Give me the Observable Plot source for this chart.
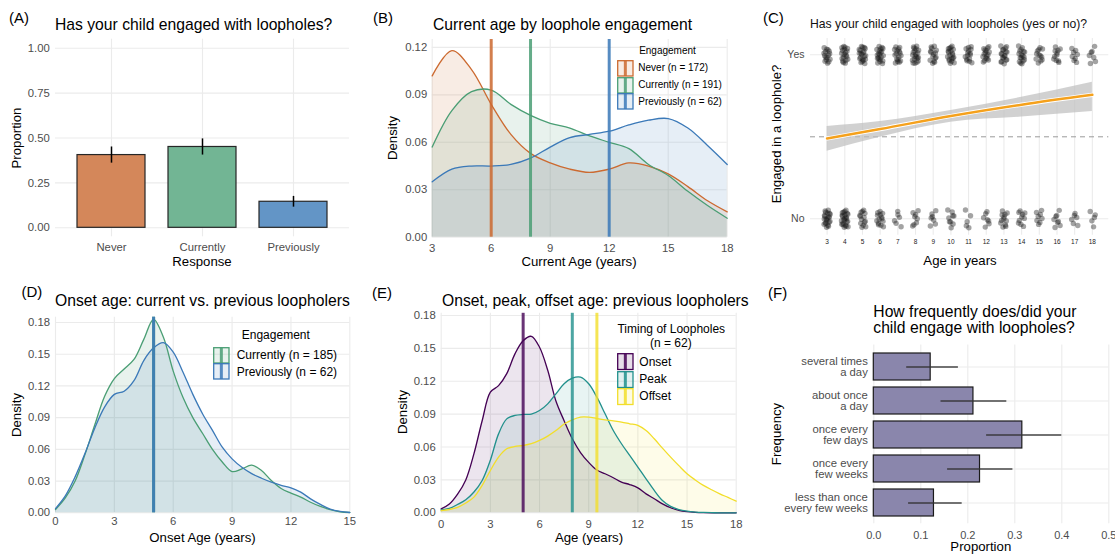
<!DOCTYPE html>
<html><head><meta charset="utf-8">
<script src="https://cdn.jsdelivr.net/npm/d3@7"></script>
<script src="https://cdn.jsdelivr.net/npm/@observablehq/plot@0.6"></script>
<style>
body{margin:0;background:#fff;font-family:"Liberation Sans",Arial,Helvetica,sans-serif;}
#fig{position:relative;width:1115px;height:554px;overflow:hidden;background:#fff;}
.t{position:absolute;white-space:nowrap;line-height:1;color:#000;}
</style>
</head><body><div id="fig"></div>
<script>
// ---------- Panel A data ----------
const responseCats = ["Never", "Currently", "Previously"];
const responseProp = [0.405, 0.45, 0.145];
const responseLo = [0.36, 0.405, 0.115];
const responseHi = [0.45, 0.495, 0.175];
const responseBarFill = ["#D4875A", "#72B594", "#6395C6"];
const engageLine = ["#CC6A30", "#4A9E74", "#3B79B8"];

// ---------- Panel B data ----------
const engageLabelsB = ["Never (n = 172)", "Currently (n = 191)", "Previously (n = 62)"];
const ageGridB = [3,4,5,6,7,8,9,10,11,12,13,14,15,16,17,18];
const densNeverB = [.102,.118,.106,.084,.065,.053,.047,.043,.041,.043,.047,.045,.040,.032,.023,.016];
const densCurrentlyB = [.057,.080,.092,.093,.084,.077,.072,.069,.064,.060,.056,.046,.039,.029,.020,.012];
const densPreviouslyB = [.035,.043,.045,.045,.046,.050,.057,.063,.065,.067,.071,.074,.075,.069,.058,.046];
const medianAgeB = [6, 8, 12];

// ---------- Panel C data ----------
const agesC = [3,4,5,6,7,8,9,10,11,12,13,14,15,16,17,18];
const yesCounts = [16,19,21,21,17,20,15,20,15,16,18,17,12,11,8,7];
const noCounts = [22,24,14,14,6,8,7,9,5,7,12,10,8,8,6,5];
const ynLabels = ["No", "Yes"];
const fitAges = [3, 6, 10, 14, 18];
const fitProb = [0.49, 0.547, 0.627, 0.696, 0.756];
const fitLo = [0.412, 0.498, 0.589, 0.62, 0.654];
const fitHi = [0.563, 0.593, 0.66, 0.741, 0.833];

// ---------- Panel D data ----------
const engageCatsD = ["Currently", "Previously"];
const engageLabelsD = ["Currently (n = 185)", "Previously (n = 62)"];
const ageGridD = [0,0.5,1,1.5,2,2.5,3,3.5,4,4.5,5,5.5,6,6.5,7,7.5,8,8.5,9,9.5,10,10.5,11,11.5,12,12.5,13,13.5,14,14.5,15];
const densCurrentlyD = [.003,.014,.030,.055,.083,.110,.127,.136,.145,.164,.183,.166,.134,.109,.090,.075,.060,.048,.039,.0415,.045,.040,.0305,.023,.0186,.0148,.010,.006,.003,.001,.0003];
const densPreviouslyD = [.004,.016,.034,.056,.080,.100,.112,.115,.125,.144,.156,.161,.152,.133,.112,.0935,.078,.062,.051,.043,.037,.0327,.029,.026,.0236,.0195,.0132,.0079,.0035,.0013,.0003];
const medianOnsetD = [5, 5];

// ---------- Panel E data ----------
const timingCats = ["Onset", "Peak", "Offset"];
const timingLine = ["#440154", "#21908C", "#F2DE2A"];
const ageGridE = [0,0.5,1,1.5,2,2.5,3,3.5,4,4.5,5,5.5,6,6.5,7,7.5,8,8.5,9,9.5,10,10.5,11,11.5,12,12.5,13,13.5,14,14.5,15,15.5,16,16.5,17,17.5,18];
const densOnsetE = [.0036,.008,.017,.030,.054,.084,.110,.116,.127,.145,.157,.161,.151,.130,.102,.084,.0675,.055,.046,.039,.0356,.032,.028,.0258,.0228,.0173,.0128,.0082,.0046,.0022,.001,.0004,.0001,0,0,0,0];
const densPeakE = [.0027,.004,.0076,.012,.019,.0295,.048,.072,.0857,.0888,.0897,.090,.0933,.0994,.1085,.1177,.1228,.1237,.1177,.1055,.0903,.0751,.063,.0523,.0417,.031,.0204,.0112,.0058,.003,.0015,.0007,.0003,.0001,0,0,0];
const densOffsetE = [.002,.003,.005,.009,.0143,.025,.0386,.0508,.0584,.0605,.0614,.063,.066,.070,.075,.081,.0848,.0873,.0873,.086,.0848,.0838,.0827,.0812,.0797,.075,.0675,.059,.0508,.043,.0356,.030,.025,.021,.0173,.014,.0106];
const medianTimingE = [5, 8, 9.5];

// ---------- Panel F data ----------
const freqCats = ["several times\na day", "about once\na day", "once every\nfew days", "once every\nfew weeks", "less than once\nevery few weeks"];
const freqProp = [0.121, 0.212, 0.316, 0.226, 0.128];
const freqLo = [0.07, 0.143, 0.24, 0.157, 0.074];
const freqHi = [0.18, 0.283, 0.40, 0.296, 0.188];

// ---------- helpers ----------
const fig = document.getElementById("fig");
const FONT = '"Liberation Sans", Arial, Helvetica, sans-serif';
const GRID = "#EBEBEB";
const CURVE = "catmull-rom";
const baseStyle = {fontFamily: FONT, fontSize: "11.3px", color: "#4D4D4D", background: "none", overflow: "visible"};
const gridOpts = {stroke: GRID, strokeOpacity: 1, strokeWidth: 1.1};

function mount(node, left, top) {
  const d = document.createElement("div");
  d.style.position = "absolute"; d.style.left = left + "px"; d.style.top = top + "px";
  d.appendChild(node); fig.appendChild(d);
}
function txt(s, x, y, size, anchor = "left", color = "#000") {
  const d = document.createElement("div");
  d.className = "t"; d.textContent = s;
  d.style.left = x + "px"; d.style.top = y + "px"; d.style.fontSize = size + "px"; d.style.color = color;
  if (anchor === "left") d.style.transform = "translate(0,-50%)";
  else if (anchor === "center") d.style.transform = "translate(-50%,-50%)";
  else if (anchor === "vert") d.style.transform = "translate(-50%,-50%) rotate(-90deg)";
  fig.appendChild(d);
}
function key(x, y, w, h, color) {
  const d = document.createElement("div");
  d.style.position = "absolute"; d.style.left = x + "px"; d.style.top = y + "px";
  d.innerHTML = `<svg width="${w}" height="${h}" style="display:block;overflow:visible">
    <rect x="0.7" y="0.7" width="${w - 1.4}" height="${h - 1.4}" fill="${color}" fill-opacity="0.13" stroke="${color}" stroke-width="1.3"/>
    <line x1="${w / 2}" x2="${w / 2}" y1="0.7" y2="${h - 0.7}" stroke="${color}" stroke-width="3" stroke-opacity="0.85"/></svg>`;
  fig.appendChild(d);
}
function longRows(cats, grid, series) {
  const rows = [];
  cats.forEach((g, gi) => grid.forEach((a, i) => rows.push({g, a, d: series[gi][i]})));
  return rows;
}
function halton(i, b) { let f = 1, r = 0; while (i > 0) { f /= b; r += f * (i % b); i = Math.floor(i / b); } return r; }

const TITLE = 15.7, AXT = 13.2, LET = 15;

// ================= Panel A =================
const dataA = responseCats.map((c, i) => ({cat: c, p: responseProp[i], lo: responseLo[i], hi: responseHi[i]}));
mount(Plot.plot({
  width: 370, height: 275, marginLeft: 55, marginRight: 21, marginTop: 38.7, marginBottom: 38.7,
  style: baseStyle,
  x: {type: "band", domain: responseCats, paddingInner: 0.25, paddingOuter: 0.225},
  y: {domain: [-0.05, 1.05]},
  color: {domain: responseCats, range: responseBarFill},
  marks: [
    Plot.gridY({ticks: [0, .25, .5, .75, 1], ...gridOpts}),
    Plot.ruleX(responseCats, {x: d => d, ...gridOpts}),
    Plot.barY(dataA, {x: "cat", y1: 0, y2: "p", fill: "cat", stroke: "#262626", strokeWidth: 1.2}),
    Plot.ruleX(dataA, {x: "cat", y1: "lo", y2: "hi", stroke: "#000", strokeWidth: 1.5}),
    Plot.axisY({ticks: [0, .25, .5, .75, 1], tickFormat: ".2f", tickSize: 0, tickPadding: 5.7, label: null}),
    Plot.axisX({tickSize: 0, tickPadding: 6.5, label: null})
  ]
}), 0, 0);
txt("(A)", 9, 17, LET);
txt("Has your child engaged with loopholes?", 55, 25, TITLE);
txt("Response", 202, 262, AXT, "center");
txt("Proportion", 17, 137.5, AXT, "vert");

// ================= Panel B =================
const rowsB = longRows(responseCats, ageGridB, [densNeverB, densCurrentlyB, densPreviouslyB]);
const medB = responseCats.map((g, i) => ({g, m: medianAgeB[i]}));
mount(Plot.plot({
  width: 375, height: 275, marginLeft: 61.7, marginRight: 18.3, marginTop: 39, marginBottom: 38.3,
  style: baseStyle,
  x: {domain: [3, 18]},
  y: {domain: [0, 0.125]},
  color: {domain: responseCats, range: engageLine},
  marks: [
    Plot.gridX({ticks: [3, 6, 9, 12, 15, 18], ...gridOpts}),
    Plot.gridY({ticks: [0, .03, .06, .09, .12], ...gridOpts}),
    Plot.areaY(rowsB, {x: "a", y1: 0, y2: "d", z: "g", fill: "g", fillOpacity: 0.13, curve: CURVE}),
    Plot.lineY(rowsB, {x: "a", y: "d", z: "g", stroke: "g", strokeWidth: 1.3, curve: CURVE}),
    Plot.ruleX(medB, {x: "m", stroke: "g", strokeWidth: 3, strokeOpacity: 0.85}),
    Plot.axisY({ticks: [0, .03, .06, .09, .12], tickFormat: ".2f", tickSize: 0, tickPadding: 5, label: null}),
    Plot.axisX({ticks: [3, 6, 9, 12, 15, 18], tickSize: 0, tickPadding: 6.5, label: null})
  ]
}), 370, 0);
txt("(B)", 373, 17, LET);
txt("Current age by loophole engagement", 433, 25, TITLE);
txt("Current Age (years)", 579, 262, AXT, "center");
txt("Density", 393, 138, AXT, "vert");
txt("Engagement", 667.5, 51, 10, "center");
engageLabelsB.forEach((s, i) => {
  key(616.7, 60 + i * 16.7, 16.7, 16.7, engageLine[i]);
  txt(s, 638.3, 68.3 + i * 16.7, 10);
});

// ================= Panel C =================
const pointsC = [];
agesC.forEach((a, ai) => {
  for (let k = 0; k < yesCounts[ai]; k++) {
    const j = k + 1 + ai * 7;
    pointsC.push({age: a + (halton(j, 2) - 0.5) * 0.38, v: 1 + (halton(j, 3) - 0.5) * 0.11});
  }
  for (let k = 0; k < noCounts[ai]; k++) {
    const j = k + 40 + ai * 5;
    pointsC.push({age: a + (halton(j, 2) - 0.5) * 0.38, v: 0 + (halton(j, 3) - 0.5) * 0.11});
  }
});
const fitC = fitAges.map((a, i) => ({a, p: fitProb[i], lo: fitLo[i], hi: fitHi[i]}));
mount(Plot.plot({
  width: 365, height: 275, marginLeft: 60, marginRight: 6.7, marginTop: 37.9, marginBottom: 40.3,
  style: baseStyle,
  x: {domain: [2.06, 18.93]},
  y: {domain: [-0.1, 1.1]},
  marks: [
    Plot.gridX({ticks: agesC, ...gridOpts}),
    Plot.gridY({ticks: [0, 1], ...gridOpts}),
    Plot.ruleY([0.5], {stroke: "#9A9A9A", strokeWidth: 1, strokeDasharray: "5,4"}),
    Plot.dot(pointsC, {x: "age", y: "v", r: 2.7, fill: "#1a1a1a", fillOpacity: 0.4, stroke: "none"}),
    Plot.areaY(fitC, {x: "a", y1: "lo", y2: "hi", fill: "#BDBDBD", fillOpacity: 0.7, curve: "monotone-x"}),
    Plot.lineY(fitC, {x: "a", y: "p", stroke: "#fff", strokeWidth: 4.2, curve: "monotone-x"}),
    Plot.lineY(fitC, {x: "a", y: "p", stroke: "#F5A11C", strokeWidth: 2.5, curve: "monotone-x"}),
    Plot.axisY({ticks: [0, 1], tickFormat: d => ynLabels[d], tickSize: 0, tickPadding: 6, label: null, fontSize: 10.5}),
    Plot.axisX({ticks: agesC, tickSize: 0, tickPadding: 4, label: null, fontSize: 6.5, fill: "#222"})
  ]
}), 750, 0);
txt("(C)", 763, 17, LET);
txt("Has your child engaged with loopholes (yes or no)?", 810, 24, 12.2, "left", "#111");
txt("Age in years", 960, 260.5, AXT, "center");
txt("Engaged in a loophole?", 777, 133.5, AXT, "vert");

// ================= Panel D =================
const rowsD = longRows(engageCatsD, ageGridD, [densCurrentlyD, densPreviouslyD]);
const medD = engageCatsD.map((g, i) => ({g, m: medianOnsetD[i]}));
const colD = [engageLine[1], engageLine[2]];
mount(Plot.plot({
  width: 370, height: 274, marginLeft: 55, marginRight: 20.7, marginTop: 36.7, marginBottom: 41.7,
  style: baseStyle,
  x: {domain: [0, 15]},
  y: {domain: [0, 0.185]},
  color: {domain: engageCatsD, range: colD},
  marks: [
    Plot.gridX({ticks: [0, 3, 6, 9, 12, 15], ...gridOpts}),
    Plot.gridY({ticks: [0, .03, .06, .09, .12, .15, .18], ...gridOpts}),
    Plot.areaY(rowsD, {x: "a", y1: 0, y2: "d", z: "g", fill: "g", fillOpacity: 0.13, curve: CURVE}),
    Plot.lineY(rowsD, {x: "a", y: "d", z: "g", stroke: "g", strokeWidth: 1.3, curve: CURVE}),
    Plot.ruleX(medD, {x: "m", stroke: "g", strokeWidth: 3, strokeOpacity: 0.85}),
    Plot.axisY({ticks: [0, .03, .06, .09, .12, .15, .18], tickFormat: ".2f", tickSize: 0, tickPadding: 5.5, label: null}),
    Plot.axisX({ticks: [0, 3, 6, 9, 12, 15], tickSize: 0, tickPadding: 4.5, label: null})
  ]
}), 0, 280);
txt("(D)", 21.5, 291, LET);
txt("Onset age: current vs. previous loopholers", 55, 301, TITLE);
txt("Onset Age (years)", 202.5, 538.3, AXT, "center");
txt("Density", 16.7, 414.5, AXT, "vert");
txt("Engagement", 275.8, 335, 12, "center");
engageLabelsD.forEach((s, i) => {
  key(213.3, 346.7 + i * 16.7, 16.7, 16.7, colD[i]);
  txt(s, 236.7, 355 + i * 16.7, 12);
});

// ================= Panel E =================
const rowsE = longRows(timingCats, ageGridE, [densOnsetE, densPeakE, densOffsetE]);
const medE = timingCats.map((g, i) => ({g, m: medianTimingE[i]}));
mount(Plot.plot({
  width: 375, height: 274, marginLeft: 70.7, marginRight: 9.3, marginTop: 32.8, marginBottom: 41.7,
  style: baseStyle,
  x: {domain: [0, 18]},
  y: {domain: [0, 0.182]},
  color: {domain: timingCats, range: timingLine},
  marks: [
    Plot.gridX({ticks: [0, 3, 6, 9, 12, 15, 18], ...gridOpts}),
    Plot.gridY({ticks: [0, .03, .06, .09, .12, .15, .18], ...gridOpts}),
    Plot.areaY(rowsE, {x: "a", y1: 0, y2: "d", z: "g", fill: "g", fillOpacity: 0.1, curve: CURVE}),
    Plot.lineY(rowsE, {x: "a", y: "d", z: "g", stroke: "g", strokeWidth: 1.3, curve: CURVE}),
    Plot.ruleX(medE, {x: "m", stroke: "g", strokeWidth: 3, strokeOpacity: 0.8}),
    Plot.axisY({ticks: [0, .03, .06, .09, .12, .15, .18], tickFormat: ".2f", tickSize: 0, tickPadding: 5.5, label: null}),
    Plot.axisX({ticks: [0, 3, 6, 9, 12, 15, 18], tickSize: 0, tickPadding: 7, label: null})
  ]
}), 370, 280);
txt("(E)", 372, 291.5, LET);
txt("Onset, peak, offset age: previous loopholers", 442, 300.7, TITLE);
txt("Age (years)", 589, 537.7, AXT, "center");
txt("Density", 403.3, 412, AXT, "vert");
txt("Timing of Loopholes", 671.3, 329, 12, "center");
txt("(n = 62)", 670.8, 342.7, 12, "center");
timingCats.forEach((s, i) => {
  key(616.7, 353.3 + i * 17.2, 16.7, 17.2, timingLine[i]);
  txt(s, 639.3, 362 + i * 17.2, 12);
});

// ================= Panel F =================
const dataF = freqCats.map((c, i) => ({cat: c, p: freqProp[i], lo: freqLo[i], hi: freqHi[i]}));
mount(Plot.plot({
  width: 365, height: 274, marginLeft: 123.3, marginRight: 6.7, marginTop: 64.4, marginBottom: 30.7,
  style: baseStyle,
  x: {domain: [0, 0.5]},
  y: {type: "band", domain: freqCats, paddingInner: 0.22, paddingOuter: 0.21},
  marks: [
    Plot.gridX({ticks: [0, .1, .2, .3, .4, .5], ...gridOpts}),
    Plot.ruleY(freqCats, {y: d => d, ...gridOpts}),
    Plot.barX(dataF, {y: "cat", x1: 0, x2: "p", fill: "#8A86AC", stroke: "#1a1a1a", strokeWidth: 1.2}),
    Plot.ruleY(dataF, {y: "cat", x1: "lo", x2: "hi", stroke: "#333", strokeOpacity: 0.9, strokeWidth: 1.5}),
    Plot.axisY({tickSize: 0, tickPadding: 6, label: null}),
    Plot.axisX({ticks: [0, .1, .2, .3, .4, .5], tickFormat: ".1f", tickSize: 0, tickPadding: 7.8, label: null, fontSize: 11})
  ]
}), 750, 280);
txt("(F)", 768, 292.3, LET);
txt("How frequently does/did your", 873.3, 311.7, TITLE);
txt("child engage with loopholes?", 873.3, 327.7, TITLE);
txt("Proportion", 980.8, 547, AXT, "center");
txt("Frequency", 776.5, 433.9, AXT, "vert");
</script>
</body></html>
